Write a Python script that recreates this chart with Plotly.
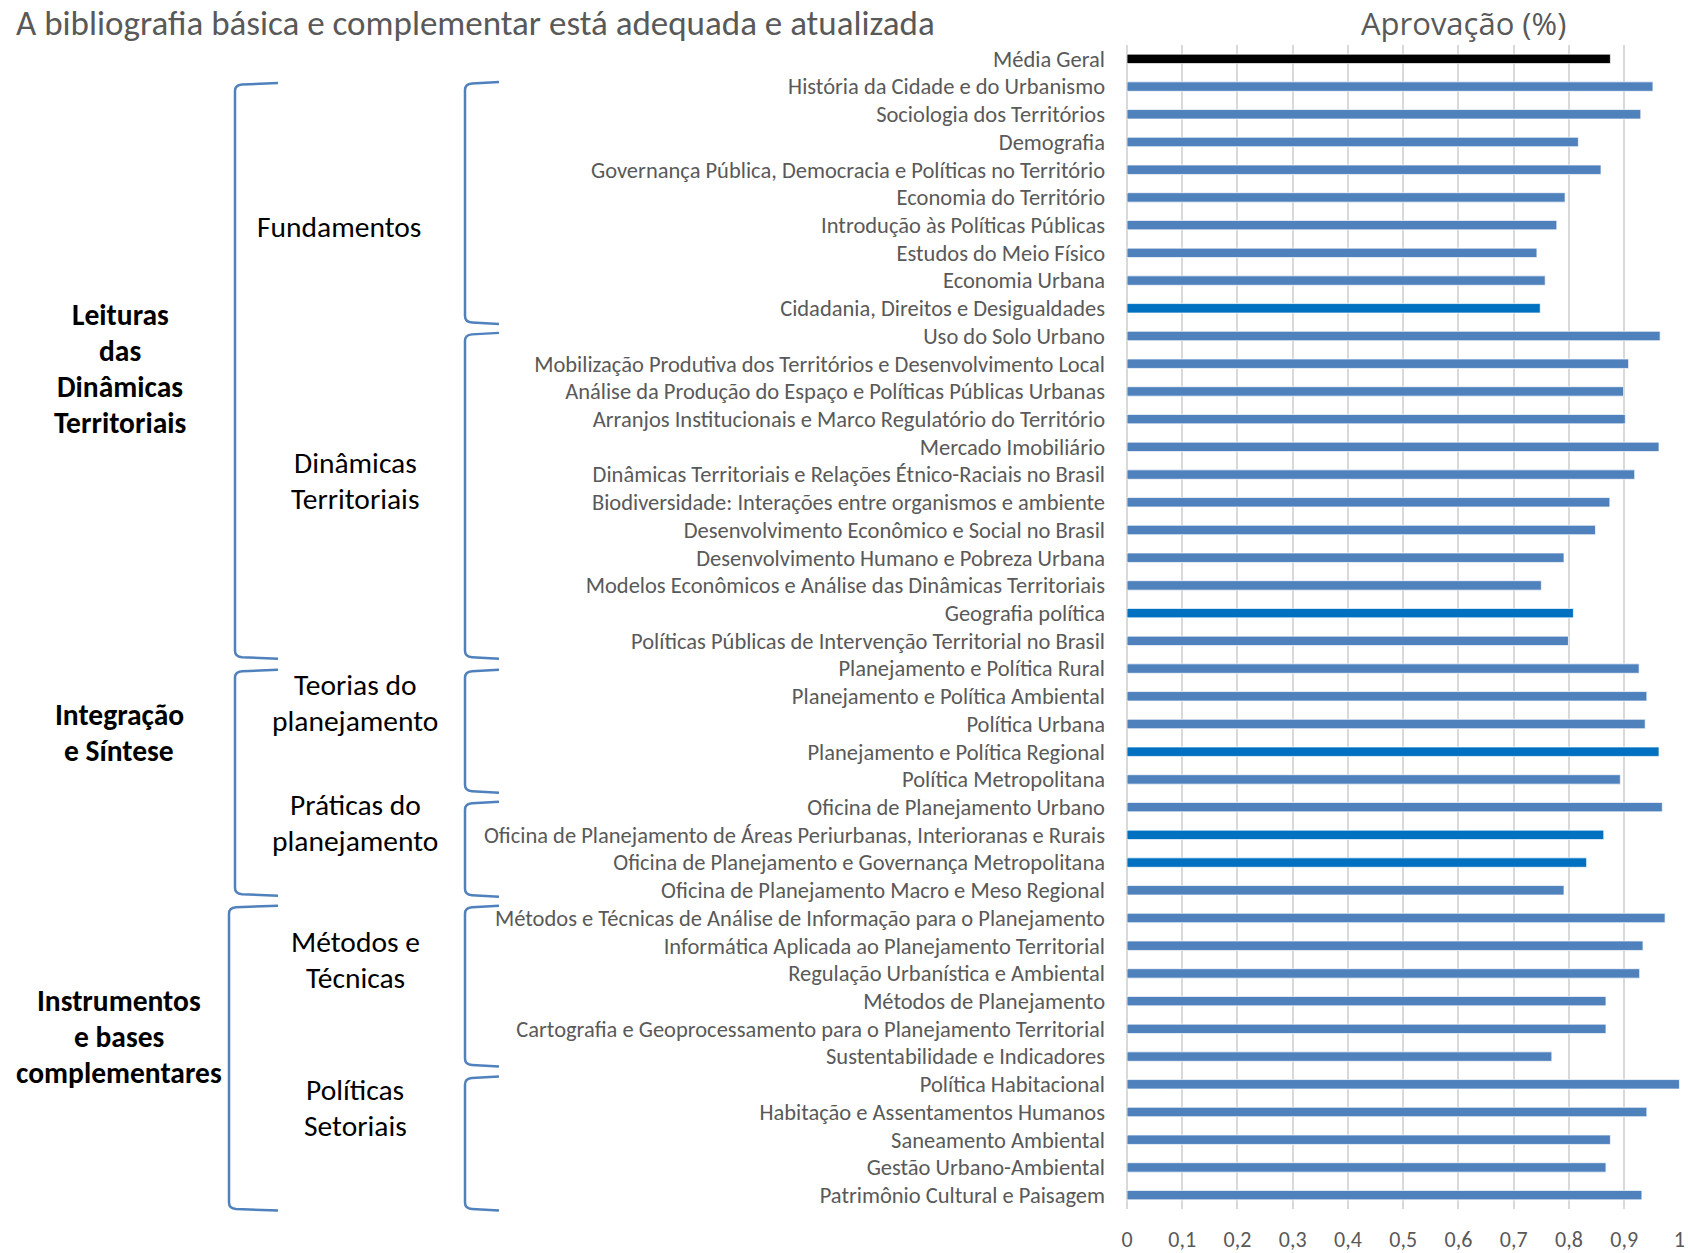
import plotly.graph_objects as go

categories = [
    "Média Geral",
    "História da Cidade e do Urbanismo",
    "Sociologia dos Territórios",
    "Demografia",
    "Governança Pública, Democracia e Políticas no Território",
    "Economia do Território",
    "Introdução às Políticas Públicas",
    "Estudos do Meio Físico",
    "Economia Urbana",
    "Cidadania, Direitos e Desigualdades",
    "Uso do Solo Urbano",
    "Mobilização Produtiva dos Territórios e Desenvolvimento Local",
    "Análise da Produção do Espaço e Políticas Públicas Urbanas",
    "Arranjos Institucionais e Marco Regulatório do Território",
    "Mercado Imobiliário",
    "Dinâmicas Territoriais e Relações Étnico-Raciais no Brasil",
    "Biodiversidade: Interações entre organismos e ambiente",
    "Desenvolvimento Econômico e Social no Brasil",
    "Desenvolvimento Humano e Pobreza Urbana",
    "Modelos Econômicos e Análise das Dinâmicas Territoriais",
    "Geografia política",
    "Políticas Públicas de Intervenção Territorial no Brasil",
    "Planejamento e Política Rural",
    "Planejamento e Política Ambiental",
    "Política Urbana",
    "Planejamento e Política Regional",
    "Política Metropolitana",
    "Oficina de Planejamento Urbano",
    "Oficina de Planejamento de Áreas Periurbanas, Interioranas e Rurais",
    "Oficina de Planejamento e Governança Metropolitana",
    "Oficina de Planejamento Macro e Meso Regional",
    "Métodos e Técnicas de Análise de Informação para o Planejamento",
    "Informática Aplicada ao Planejamento Territorial",
    "Regulação Urbanística e Ambiental",
    "Métodos de Planejamento",
    "Cartografia e Geoprocessamento para o Planejamento Territorial",
    "Sustentabilidade e Indicadores",
    "Política Habitacional",
    "Habitação e Assentamentos Humanos",
    "Saneamento Ambiental",
    "Gestão Urbano-Ambiental",
    "Patrimônio Cultural e Paisagem",
]

approval = [
    0.875, 0.952, 0.930, 0.817, 0.858, 0.793, 0.778, 0.742, 0.757, 0.748,
    0.965, 0.908, 0.899, 0.902, 0.963, 0.919, 0.874, 0.848, 0.791, 0.750,
    0.808, 0.799, 0.927, 0.941, 0.938, 0.963, 0.893, 0.969, 0.863, 0.832,
    0.791, 0.974, 0.934, 0.928, 0.867, 0.867, 0.769, 1.000, 0.941, 0.875,
    0.867, 0.932,
]

tick_values = [0, 0.1, 0.2, 0.3, 0.4, 0.5, 0.6, 0.7, 0.8, 0.9, 1.0]
tick_labels = ["0", "0,1", "0,2", "0,3", "0,4", "0,5", "0,6", "0,7", "0,8", "0,9", "1"]

title_text = "A bibliografia básica e complementar está adequada e atualizada"
axis_title = "Aprovação (%)"

outer_groups = [
    ["Leituras", "das", "Dinâmicas", "Territoriais"],
    ["Integração", "e Síntese"],
    ["Instrumentos", "e bases", "complementares"],
]
inner_groups = [
    ["Fundamentos"],
    ["Dinâmicas", "Territoriais"],
    ["Teorias do", "planejamento"],
    ["Práticas do", "planejamento"],
    ["Métodos e", "Técnicas"],
    ["Políticas", "Setoriais"],
]

# ---------------- style / layout ----------------
OFF = 0  # body margin removed by post_script below
W, H = 1688, 1253
L, R, T, B = 1127, 8, 45, 43.5
PW = W - L - R
PH = H - T - B

BLUE = "#4F81BD"
BRIGHT = "#0070C0"
highlight = {
    "Cidadania, Direitos e Desigualdades",
    "Geografia política",
    "Planejamento e Política Regional",
    "Oficina de Planejamento de Áreas Periurbanas, Interioranas e Rurais",
    "Oficina de Planejamento e Governança Metropolitana",
}
colors = []
for c in categories:
    if c == "Média Geral":
        colors.append("#000000")
    elif c in highlight:
        colors.append(BRIGHT)
    else:
        colors.append(BLUE)

FONT = "Carlito, Calibri, 'Liberation Sans Narrow', 'Open Sans', sans-serif"
GRAY = "#595959"


def px(x):
    return (x - OFF - L) / PW


def py(y):
    return (H - B - (y - OFF)) / PH


fig = go.Figure()
fig.add_trace(go.Bar(
    x=approval,
    y=categories,
    orientation="h",
    marker=dict(color=colors, line=dict(color="rgba(255,255,255,0.7)", width=1)),
    hoverinfo="x+y",
))

fig.update_layout(
    width=W, height=H,
    margin=dict(l=L, r=R, t=T, b=B, pad=0, autoexpand=False),
    paper_bgcolor="white",
    plot_bgcolor="white",
    showlegend=False,
    bargap=0.66,
    font=dict(family=FONT, color=GRAY, size=22),
)
fig.update_xaxes(
    range=[0, 1.001],
    tickvals=tick_values,
    ticktext=tick_labels,
    showgrid=True,
    gridcolor="#D9D9D9",
    gridwidth=2,
    zeroline=True,
    zerolinecolor="#D9D9D9",
    zerolinewidth=2,
    showline=False,
    ticks="",
    automargin=False,
    ticklabelstandoff=15,
    tickfont=dict(size=22, color=GRAY, family=FONT),
)
fig.update_yaxes(
    type="category",
    autorange="reversed",
    showgrid=False,
    ticks="",
    automargin=False,
    ticklabelstandoff=21,
    tickfont=dict(size=22.5, color=GRAY, family=FONT),
)

fig.add_annotation(text=title_text, xref="paper", yref="paper",
                   x=px(15), y=py(22.5), xanchor="left", yanchor="middle",
                   showarrow=False, borderpad=0,
                   font=dict(size=35, color=GRAY, family=FONT))
fig.add_annotation(text=axis_title, xref="paper", yref="paper",
                   x=px(1463), y=py(22.5), xanchor="center", yanchor="middle",
                   showarrow=False, borderpad=0,
                   font=dict(size=31, color=GRAY, family="'Open Sans', sans-serif"))

BR_COLOR = "#4F81BD"


def bracket(xv, xa, yt, yb):
    pts = (
        f"M {px(xa)},{py(yt)} "
        f"L {px(xv + 7)},{py(yt + 1.5)} "
        f"Q {px(xv)},{py(yt + 2)} {px(xv)},{py(yt + 8)} "
        f"L {px(xv)},{py(yb - 8)} "
        f"Q {px(xv)},{py(yb - 2)} {px(xv + 7)},{py(yb - 1.5)} "
        f"L {px(xa)},{py(yb)}"
    )
    fig.add_shape(type="path", path=pts, xref="paper", yref="paper",
                  line=dict(color=BR_COLOR, width=2.5))


outer_spans = [(235, 278, 83, 659), (235, 278, 670, 896), (229, 278, 906, 1211)]
inner_spans = [(465, 499, 82, 324), (465, 499, 333, 659), (465, 499, 670, 793),
               (465, 499, 802, 897), (465, 499, 906, 1067), (465, 499, 1077, 1211)]
for s in outer_spans + inner_spans:
    bracket(*s)

LINE = 36
outer_pos = [(120, 369), (119, 733), (119, 1037)]
inner_pos = [(339, 227), (355, 481), (355, 703), (355, 823), (355, 960), (355, 1108)]

for lines, (cx, cy) in zip(outer_groups, outer_pos):
    n = len(lines)
    for i, t in enumerate(lines):
        yy = cy + (i - (n - 1) / 2) * LINE
        fig.add_annotation(text=f"<b>{t}</b>", xref="paper", yref="paper",
                           x=px(cx), y=py(yy), xanchor="center", yanchor="middle",
                           showarrow=False,
                           font=dict(size=29.5, color="#000000", family=FONT))

for lines, (cx, cy) in zip(inner_groups, inner_pos):
    n = len(lines)
    for i, t in enumerate(lines):
        yy = cy + (i - (n - 1) / 2) * LINE
        fig.add_annotation(text=t, xref="paper", yref="paper",
                           x=px(cx), y=py(yy), xanchor="center", yanchor="middle",
                           showarrow=False,
                           font=dict(size=29.5, color="#000000", family=FONT))

fig.write_html(
    "out.html",
    config={"displayModeBar": False},
    post_script="document.body.style.margin='0';document.body.style.overflow='hidden';",
)
